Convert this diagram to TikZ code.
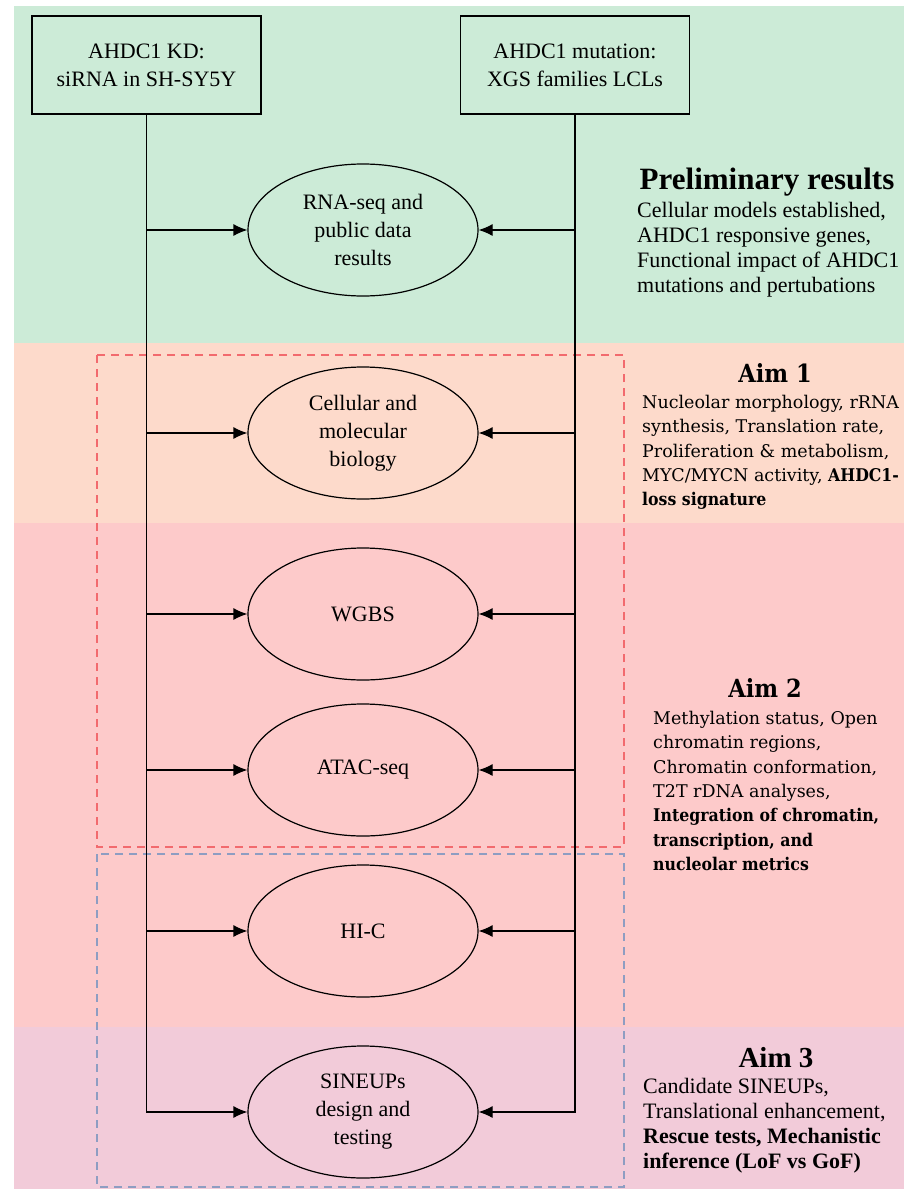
\documentclass[tikz,border=0pt]{standalone}
\usepackage{fontspec}
\setmainfont{Liberation Serif}
\newfontfamily\aimfont[BoldFeatures={FakeStretch=0.9}]{DejaVu Serif}
\usepackage{xcolor}
\usetikzlibrary{arrows, arrows.meta, shapes.geometric, positioning}

\definecolor{prelimbg}{HTML}{CCEBD7}
\definecolor{aimonebg}{HTML}{FDDACB}
\definecolor{aimtwobg}{HTML}{FDCACA}
\definecolor{aimthreebg}{HTML}{F2CBD9}
\definecolor{reddash}{HTML}{F26A6E}
\definecolor{bluedash}{HTML}{8E9DC2}

\tikzset{
  % Graph arrow style
  garr/.style={
    line width = 1.2pt,
    -{Latex[length=14pt, width=12pt]}
  },
  % source boxes and method ellipses
  srcbox/.style={
    draw, line width=1.3pt,
    minimum width=229pt, minimum height=98pt,
    align=center, font={\fontsize{22}{28}\selectfont}
  },
  meth/.style={
    draw, ellipse, line width=1.2pt, inner sep=0pt,
    minimum width=230pt, minimum height=132pt,
    align=center, font={\fontsize{22}{28}\selectfont}
  },
}

\begin{document}
\begin{tikzpicture}
          [x=1pt, y=-1pt,
           hd/.style={inner sep=0pt, font={\fontsize{31}{36}\selectfont\bfseries}},
           aimhd/.style={inner sep=0pt, font={\aimfont\fontsize{25}{30}\selectfont\bfseries}},
           txt/.style={anchor=north west, inner sep=0pt, align=left,
                       font={\fontsize{22}{25}\selectfont}},
           aimtxt/.style={anchor=north west, inner sep=0pt, align=left,
                          font={\aimfont\fontsize{17.5}{24.3}\selectfont}},
           frame/.style={line width=2pt, dash pattern=on 8pt off 6pt}
          ]
          \useasboundingbox (0,0) rectangle (904,1189);

          % coloured bands
          \fill[prelimbg] (14,6) rectangle (904,343);
          \fill[aimonebg] (14,343) rectangle (904,523);
          \fill[aimtwobg] (14,523) rectangle (904,1027);
          \fill[aimthreebg] (14,1027) rectangle (904,1189);

          \draw[frame, reddash] (97,355) rectangle (624,847);
          \draw[frame, bluedash] (97,854) rectangle (624,1187);

          \node (kd) [srcbox] at (146.5,65)
                    {AHDC1 KD:\\siRNA in SH-SY5Y};
          \node (mut) [srcbox] at (575,65)
                    {AHDC1 mutation:\\XGS families LCLs};

          \node (rna) [meth] at (363,230)
                    {RNA-seq and\\public data\\results};
          \node (cell) [meth] at (363,433)
                    {Cellular and\\molecular\\biology};
          \node (wgbs) [meth] at (363,614)
                    {WGBS};
          \node (atac) [meth] at (363,770)
                    {ATAC-seq};
          \node (hic) [meth] at (363,931)
                    {HI-C};
          \node (sineup) [meth] at (363,1112)
                    {SINEUPs\\design and\\testing};

          \node (prelim) [hd] at (767,182) {Preliminary results};
          \node (prelimtxt) [txt] at (637,202)
                    {Cellular models established,\\AHDC1 responsive genes,\\Functional impact of AHDC1\\mutations and pertubations};

          \node (aimone) [aimhd] at (775,373) {Aim 1};
          \node (aimonetxt) [aimtxt] at (642,395)
                    {Nucleolar morphology, rRNA\\synthesis, Translation rate,\\Proliferation \& metabolism,\\MYC/MYCN activity, \textbf{AHDC1-}\\\textbf{loss signature}};

          \node (aimtwo) [aimhd] at (765,688) {Aim 2};
          \node (aimtwotxt) [aimtxt] at (653,711)
                    {Methylation status, Open\\chromatin regions,\\Chromatin conformation,\\T2T rDNA analyses,\\\textbf{Integration of chromatin,}\\\textbf{transcription, and}\\\textbf{nucleolar metrics}};

          \node (aimthree) [hd, font={\fontsize{29}{34}\selectfont\bfseries}] at (776,1058) {Aim 3};
          \node (aimthreetxt) [txt] at (643,1078)
                    {Candidate SINEUPs,\\Translational enhancement,\\\textbf{Rescue tests, Mechanistic}\\\textbf{inference (LoF vs GoF)}};

          \draw[garr] (kd.south) |- (sineup.west);
          \draw[garr] (mut.south) |- (sineup.east);

          \draw[garr] (kd.south |- rna.west) -- (rna.west);
          \draw[garr] (mut.south |- rna.east) -- (rna.east);
          \draw[garr] (kd.south |- cell.west) -- (cell.west);
          \draw[garr] (mut.south |- cell.east) -- (cell.east);
          \draw[garr] (kd.south |- wgbs.west) -- (wgbs.west);
          \draw[garr] (mut.south |- wgbs.east) -- (wgbs.east);
          \draw[garr] (kd.south |- atac.west) -- (atac.west);
          \draw[garr] (mut.south |- atac.east) -- (atac.east);
          \draw[garr] (kd.south |- hic.west) -- (hic.west);
          \draw[garr] (mut.south |- hic.east) -- (hic.east);
      \end{tikzpicture}
\end{document}
